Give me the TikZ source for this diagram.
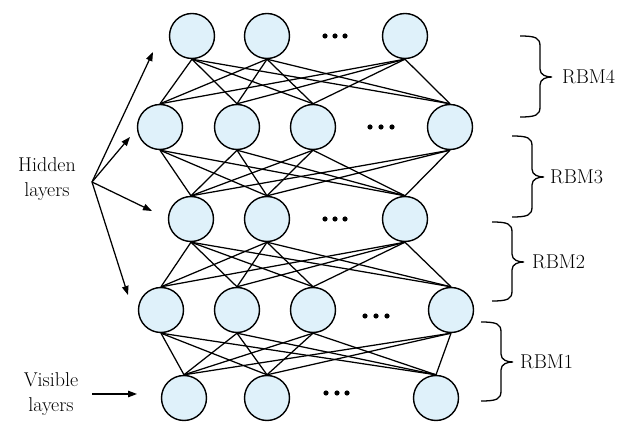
\documentclass[tikz,border=0pt]{standalone}
\usetikzlibrary{arrows.meta}
\definecolor{nodefill}{RGB}{223,241,250}
\newcommand\rbmbrace[4]{% #1=x0, #2=top, #3=mid, #4=bottom
  \draw[bracepath] (#1,#2) .. controls ({#1+16},#2) and ({#1+20},{#2+2}) .. ({#1+20},{#2+10})
    -- ({#1+20},{#3-8}) .. controls ({#1+20},{#3-2}) and ({#1+26},#3) .. ({#1+32},#3)
    .. controls ({#1+26},#3) and ({#1+20},{#3+2}) .. ({#1+20},{#3+8})
    -- ({#1+20},{#4-10}) .. controls ({#1+20},{#4-2}) and ({#1+16},#4) .. (#1,#4);}
\begin{document}
\begin{tikzpicture}[x=1pt,y=-1pt,
  unit/.style={circle,draw,line width=1.4pt,fill=nodefill,minimum size=45pt,inner sep=0pt},
  link/.style={line width=1.25pt},
  pointer/.style={line width=1.25pt,-{Triangle[length=9pt,width=6.5pt]}},
  lbl/.style={font=\fontsize{20}{25.7}\selectfont,inner sep=0pt},
  bracepath/.style={line width=1.3pt}]
\useasboundingbox (0,0) rectangle (632,435);

% layers (a = visible, bottom; e = top)
\foreach \n/\x in {1/184,2/267,3/436} \node[unit] (a\n) at (\x,398) {};
\foreach \n/\x in {1/161,2/237,3/313,4/451} \node[unit] (b\n) at (\x,310) {};
\foreach \n/\x in {1/191,2/267,3/405} \node[unit] (c\n) at (\x,219) {};
\foreach \n/\x in {1/160,2/237,3/313,4/450} \node[unit] (d\n) at (\x,127) {};
\foreach \n/\x in {1/192,2/267,3/405} \node[unit] (e\n) at (\x,36) {};

% connections
\foreach \i in {1,2,3} \foreach \j in {1,2,3,4} \draw[link] (e\i.south) -- (d\j.north);
\foreach \i in {1,2,3,4} \foreach \j in {1,2,3} \draw[link] (d\i.south) -- (c\j.north);
\foreach \i in {1,2,3} \foreach \j in {1,2,3,4} \draw[link] (c\i.south) -- (b\j.north);
\foreach \i in {1,2,3,4} \foreach \j in {1,2,3} \draw[link] (b\i.south) -- (a\j.north);

% ellipsis dots
\foreach \x in {325,335,345} \fill (\x,36) circle (2.6pt);
\foreach \x in {370,381,392} \fill (\x,127) circle (2.6pt);
\foreach \x in {325,335,345} \fill (\x,219) circle (2.6pt);
\foreach \x in {365,376,387} \fill (\x,316) circle (2.6pt);
\foreach \x in {326,337,347} \fill (\x,393) circle (2.6pt);

% left labels and arrows
\node[lbl,align=center] (hid) at (47,179) {Hidden\\layers};
\node[lbl,align=center] (vis) at (51,394) {Visible\\layers};
\coordinate (hsrc) at (92,182);
\coordinate (h5) at (153,52);
\coordinate (h4) at (130,137);
\coordinate (h3) at (152,211);
\coordinate (h2) at (128,295);
\foreach \t in {h5,h4,h3,h2} \draw[pointer] (hsrc) -- (\t);
\coordinate (vsrc) at (92,394);
\coordinate (vtgt) at (137,394);
\draw[pointer] (vsrc) -- (vtgt);

% braces and RBM labels
\rbmbrace{520}{36}{77}{117}
\rbmbrace{512}{136}{177}{217}
\rbmbrace{492}{222}{262}{301}
\rbmbrace{481}{322}{362}{401}
\node[lbl,anchor=west] (r4) at (562,77) {RBM4};
\node[lbl,anchor=west] (r3) at (550,177) {RBM3};
\node[lbl,anchor=west] (r2) at (532,262) {RBM2};
\node[lbl,anchor=west] (r1) at (520,362) {RBM1};
\end{tikzpicture}
\end{document}
